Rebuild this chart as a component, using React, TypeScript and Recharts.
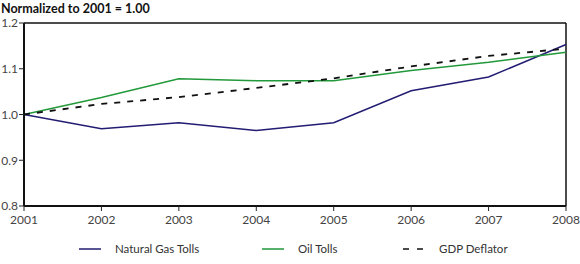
import React from "react";
import { LineChart, Line, XAxis, YAxis, ReferenceLine } from "recharts";

const years = ["2001", "2002", "2003", "2004", "2005", "2006", "2007", "2008"];
const naturalGasTolls = [1.0, 0.969, 0.982, 0.965, 0.982, 1.052, 1.082, 1.153];
const oilTolls = [1.0, 1.037, 1.078, 1.074, 1.074, 1.096, 1.114, 1.136];
const gdpDeflator = [1.0, 1.023, 1.038, 1.058, 1.079, 1.105, 1.128, 1.144];
const yTicks = [0.8, 0.9, 1.0, 1.1, 1.2];

const data = years.map((y, i) => ({
  year: y,
  gas: naturalGasTolls[i],
  oil: oilTolls[i],
  gdp: gdpDeflator[i],
}));

const GAS = "#221c72";
const OIL = "#22993a";
const FONT = "Lato, 'DejaVu Sans', sans-serif";

const legendItems = [
  { label: "Natural Gas Tolls", color: GAS, dash: undefined, x: 79 },
  { label: "Oil Tolls", color: OIL, dash: undefined, x: 262 },
  { label: "GDP Deflator", color: "#111", dash: "6 8", x: 403 },
];

export default function App() {
  return (
    <div style={{ position: "absolute", left: 0, top: 0, width: 580, height: 264, background: "#fff", fontFamily: FONT }}>
      <div style={{ position: "absolute", left: 1, top: 2, fontSize: 12.5, lineHeight: "14px", fontWeight: 700, color: "#111", fontFamily: FONT, zIndex: 1 }}>
        Normalized to 2001 = 1.00
      </div>
      <LineChart width={580} height={264} data={data} margin={{ top: 23, right: 14, bottom: 38, left: 0 }}>
        <XAxis
          dataKey="year"
          height={20}
          tick={{ fontSize: 12, fill: "#444", fontFamily: FONT }}
          tickLine={{ stroke: "#222" }}
          tickSize={5}
          tickMargin={4}
          axisLine={{ stroke: "#111", strokeWidth: 2 }}
          interval={0}
        />
        <YAxis
          width={24}
          domain={[0.8, 1.2]}
          ticks={yTicks}
          tickFormatter={(v: number) => v.toFixed(1)}
          tick={{ fontSize: 12, fill: "#444", fontFamily: FONT }}
          tickLine={{ stroke: "#222" }}
          tickSize={5}
          tickMargin={1}
          axisLine={{ stroke: "#111", strokeWidth: 2 }}
        />
        <ReferenceLine y={1.2} stroke="#111" strokeWidth={1.5} />
        <ReferenceLine x="2008" stroke="#111" strokeWidth={1.5} />
        <Line dataKey="gas" stroke={GAS} strokeWidth={1.5} dot={false} isAnimationActive={false} />
        <Line dataKey="oil" stroke={OIL} strokeWidth={1.5} dot={false} isAnimationActive={false} />
        <Line dataKey="gdp" stroke="#111" strokeWidth={1.8} strokeDasharray="6 7" dot={false} isAnimationActive={false} />
      </LineChart>
      <svg style={{ position: "absolute", left: 0, top: 238 }} width={580} height={24}>
        {legendItems.map((it) => (
          <g key={it.label}>
            <line x1={it.x} x2={it.x + 22} y1={11} y2={11} stroke={it.color} strokeWidth={1.5} strokeDasharray={it.dash} />
            <text x={it.x + 36} y={15} fontSize={11.5} fill="#333" fontFamily={FONT}>{it.label}</text>
          </g>
        ))}
      </svg>
    </div>
  );
}
